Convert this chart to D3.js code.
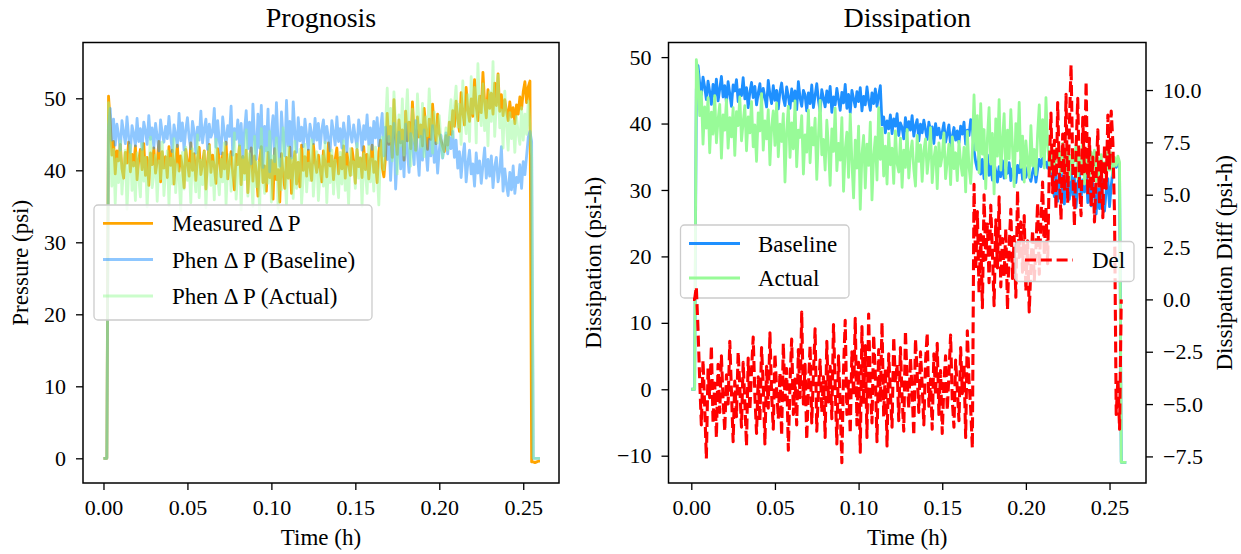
<!DOCTYPE html>
<html><head><meta charset="utf-8">
<script src="https://cdn.jsdelivr.net/npm/d3@7"></script>
<style>
body{margin:0;background:#fff;}
</style></head><body>
<svg id="chart" width="1241" height="554"></svg>
<script>
// ---------- DATA (time step 0.001 h, index i -> t = i*0.001) ----------
const timeStepH = 0.001;

const measuredDP = [
0, 0, 0, 50.3, 46.8, 42.1, 44.0, 39.5, 42.7, 41.3,
43.6, 40.2, 38.9, 42.5, 41.0, 43.9, 39.8, 42.2, 40.6, 43.4,
38.7, 41.5, 42.9, 40.1, 43.7, 39.3, 41.8, 37.9, 42.4, 40.8,
43.1, 39.6, 41.2, 44.0, 38.4, 42.6, 40.3, 41.9, 39.0, 43.3,
40.7, 42.8, 38.1, 41.4, 43.5, 39.9, 42.0, 40.4, 37.6, 42.9,
41.1, 39.2, 43.8, 40.0, 42.3, 38.6, 41.7, 43.2, 39.4, 40.9,
42.7, 37.4, 41.3, 43.6, 39.7, 42.1, 40.5, 38.2, 43.0, 41.6,
39.1, 42.4, 40.2, 43.9, 38.8, 41.0, 42.6, 39.5, 37.3, 42.2,
40.8, 43.4, 38.0, 41.9, 39.6, 42.8, 36.9, 41.2, 43.1, 38.5,
42.0, 39.8, 36.4, 41.5, 43.3, 38.3, 40.6, 37.1, 42.5, 39.0,
41.4, 36.0, 43.0, 38.7, 40.1, 35.6, 42.3, 39.4, 37.5, 41.8,
38.9, 43.2, 36.8, 40.7, 42.6, 38.1, 41.1, 37.7, 43.5, 40.0,
41.9, 39.2, 42.8, 40.4, 38.6, 43.6, 41.2, 39.7, 42.1, 40.3,
38.4, 42.7, 41.0, 39.1, 43.8, 40.6, 42.0, 38.7, 41.5, 43.1,
39.5, 41.8, 40.2, 43.4, 38.9, 42.4, 40.8, 39.3, 43.0, 41.3,
38.2, 42.9, 40.5, 41.7, 39.0, 43.3, 40.1, 42.2, 38.8, 41.6,
43.5, 39.7, 41.2, 38.3, 42.6, 44.2, 40.4, 39.1, 41.9, 47.9,
43.6, 46.1, 41.8, 49.8, 44.5, 42.2, 47.0, 43.8, 45.6, 41.4,
48.2, 44.1, 46.7, 43.0, 49.5, 45.2, 42.8, 47.4, 44.6, 46.3,
43.4, 48.6, 45.7, 42.9, 47.1, 44.3, 49.2, 46.0, 43.7, 47.8,
45.1, 44.2, 43.3, 42.6, 44.8, 43.5, 46.7, 45.0, 48.3, 46.1,
49.6, 47.2, 45.4, 50.8, 47.9, 46.3, 51.5, 48.4, 46.8, 49.9,
47.5, 52.6, 48.8, 46.9, 50.3, 48.0, 53.6, 49.4, 47.3, 51.2,
48.6, 50.7, 47.8, 52.1, 49.0, 53.4, 48.2, 50.5, 47.6, 49.8,
48.3, 46.9, 49.5, 47.4, 48.7, 46.5, 49.1, 47.8, 50.2, 48.5,
50.9, 52.3, 49.4, 51.6, 52.4, -0.5, -0.5, -0.6, -0.5, -0.4,
-0.4];

const phenBaselineDP = [
0, 0, 0, 46.0, 48.6, 44.2, 47.1, 43.5, 46.4, 44.9,
42.8, 46.9, 45.3, 43.7, 47.4, 44.6, 42.5, 46.2, 45.1, 43.4,
47.2, 44.0, 45.8, 42.9, 46.7, 45.5, 43.6, 47.6, 44.3, 45.9,
43.1, 46.5, 44.7, 42.7, 47.0, 45.2, 43.9, 46.1, 44.4, 47.5,
44.8, 42.6, 46.3, 45.0, 43.3, 47.9, 44.1, 46.6, 42.8, 45.6,
47.3, 44.5, 43.0, 46.8, 45.4, 42.4, 46.0, 44.2, 48.2, 43.8,
45.7, 47.1, 42.9, 46.4, 44.6, 45.3, 48.6, 43.2, 46.9, 44.0,
42.3, 47.4, 45.1, 43.6, 46.2, 44.7, 48.9, 42.1, 45.8, 44.3,
47.0, 43.5, 46.5, 41.8, 45.5, 48.3, 43.0, 46.7, 40.9, 49.2,
44.4, 41.5, 47.8, 43.1, 49.0, 40.4, 46.1, 42.7, 48.5, 39.8,
45.3, 47.6, 41.2, 49.4, 43.9, 40.6, 48.1, 44.5, 42.0, 49.7,
43.4, 46.8, 41.7, 49.5, 45.2, 42.5, 47.3, 44.1, 46.0, 43.3,
47.1, 44.8, 42.9, 46.4, 45.0, 43.7, 47.2, 44.2, 46.5, 43.0,
45.6, 47.0, 43.8, 46.1, 44.4, 42.7, 46.9, 45.3, 43.5, 47.4,
44.0, 45.8, 43.1, 46.6, 44.9, 42.6, 47.5, 45.1, 43.9, 46.3,
44.6, 43.2, 47.0, 45.4, 42.8, 46.2, 44.3, 47.7, 43.6, 45.9,
42.9, 46.8, 44.5, 47.3, 43.4, 45.7, 47.9, 42.0, 46.0, 41.5,
44.7, 38.6, 43.2, 46.5, 37.4, 42.1, 45.3, 40.2, 44.0, 39.1,
46.4, 42.6, 39.7, 45.1, 43.5, 40.8, 46.9, 42.2, 39.3, 44.7,
41.4, 45.6, 43.0, 40.0, 44.3, 42.0, 46.2, 41.1, 43.8, 39.6,
42.8, 44.9, 41.7, 43.4, 45.2, 42.3, 44.6, 43.0, 45.4, 41.8,
44.2, 40.3, 42.6, 39.0, 41.9, 43.7, 38.4, 41.0, 42.8, 39.5,
40.9, 37.8, 42.4, 39.6, 41.3, 38.2, 40.7, 43.1, 38.9, 41.5,
39.2, 42.0, 37.6, 40.5, 41.8, 38.4, 39.9, 43.3, 37.1, 40.2,
38.0, 36.5, 39.7, 37.3, 40.6, 36.8, 39.0, 38.3, 40.8, 37.5,
41.2, 39.4, 42.0, 44.6, 45.4, 44.0, 0, 0, 0, 0,
0];

const phenActualDP = [
0, 0, 0, 49.4, 44.2, 37.8, 42.9, 35.4, 41.6, 38.3,
44.1, 36.7, 40.5, 42.8, 34.6, 39.9, 43.5, 37.2, 41.1, 35.8,
42.4, 39.0, 36.3, 43.7, 38.5, 41.8, 34.9, 40.2, 44.6, 37.6,
39.4, 42.1, 35.7, 41.3, 38.8, 43.9, 36.5, 40.0, 42.7, 35.1,
41.7, 38.1, 44.4, 36.9, 40.8, 39.2, 34.4, 42.5, 37.4, 43.2,
38.6, 41.0, 35.5, 43.0, 39.7, 37.0, 44.9, 36.2, 41.4, 38.0,
42.6, 34.8, 40.4, 43.4, 37.9, 41.2, 35.9, 44.3, 39.1, 36.6,
41.5, 38.4, 43.8, 35.3, 40.7, 42.2, 37.1, 39.6, 45.2, 36.0,
40.0, 43.6, 34.5, 41.9, 38.7, 45.6, 36.4, 42.3, 39.3, 35.0,
44.7, 37.7, 41.1, 34.2, 45.8, 39.0, 36.8, 43.1, 38.2, 45.4,
35.6, 42.0, 39.5, 44.5, 34.7, 41.6, 37.3, 45.9, 39.8, 35.2,
43.3, 38.9, 41.7, 36.1, 44.0, 37.5, 40.6, 42.9, 35.4, 39.2,
43.6, 37.0, 41.0, 38.6, 44.2, 36.4, 40.3, 42.6, 35.8, 39.7,
42.0, 37.8, 43.9, 35.5, 40.9, 38.3, 42.8, 36.7, 41.4, 39.0,
36.2, 42.5, 38.1, 44.1, 37.2, 40.5, 35.3, 43.0, 39.4, 41.2,
37.5, 43.7, 38.9, 41.8, 35.0, 42.3, 39.6, 36.8, 43.4, 38.4,
41.6, 37.1, 43.2, 39.8, 35.2, 42.7, 44.6, 40.1, 46.3, 51.4,
44.0, 48.6, 41.3, 50.9, 46.2, 39.5, 47.7, 43.4, 49.9, 42.1,
46.8, 51.2, 44.3, 40.6, 48.5, 45.0, 42.7, 50.6, 46.0, 43.2,
49.3, 41.9, 47.4, 44.8, 51.3, 46.5, 42.4, 48.1, 45.3, 43.8,
47.6, 44.1, 41.8, 43.5, 45.9, 42.8, 47.2, 49.8, 44.6, 48.9,
51.7, 46.0, 49.2, 43.6, 52.4, 47.3, 45.1, 50.5, 44.0, 53.0,
47.9, 51.5, 43.8, 54.8, 48.6, 46.2, 52.0, 45.5, 49.7, 43.4,
50.9, 46.8, 55.1, 44.7, 49.3, 53.2, 45.9, 48.4, 43.1, 51.0,
46.3, 42.8, 48.0, 44.4, 46.9, 42.5, 47.5, 45.1, 43.6, 48.7,
44.2, 47.8, 45.0, 49.6, 46.1, 42.0, 0, 0, 0, 0,
0];

const dissBaseline = [
0, 0, 0, 45.2, 48.7, 46.1, 44.3, 47.0, 45.5, 43.6,
46.4, 44.8, 42.9, 45.9, 44.1, 46.7, 43.4, 45.2, 47.1, 44.0,
45.7, 43.1, 46.3, 44.5, 42.6, 45.8, 44.9, 46.6, 43.3, 45.1,
44.2, 46.9, 43.7, 45.4, 42.4, 44.7, 46.2, 43.9, 45.6, 42.8,
44.6, 46.0, 43.2, 45.3, 44.0, 42.5, 46.5, 44.4, 43.0, 45.7,
43.5, 45.0, 42.2, 44.8, 46.1, 43.8, 42.7, 45.5, 44.1, 42.3,
45.2, 43.4, 44.9, 42.1, 46.3, 43.9, 42.6, 45.0, 44.3, 41.9,
44.6, 43.0, 45.8, 42.4, 44.2, 46.0, 43.5, 41.8, 45.1, 43.8,
42.5, 44.9, 43.2, 45.6, 41.7, 44.0, 42.8, 45.3, 43.6, 42.0,
44.7, 43.1, 45.9, 42.3, 44.4, 41.6, 45.0, 43.7, 42.5, 44.8,
43.3, 45.4, 41.9, 44.1, 42.8, 45.5, 43.4, 42.0, 44.6, 43.0,
45.2, 42.6, 44.3, 45.7, 39.8, 41.0, 38.6, 40.4, 39.2, 41.3,
38.5, 40.7, 39.6, 41.5, 38.2, 40.1, 39.4, 37.7, 40.9, 38.8,
40.3, 39.0, 41.2, 38.1, 39.7, 40.6, 37.4, 39.9, 38.6, 40.5,
39.1, 37.6, 40.2, 38.9, 39.5, 37.0, 40.0, 38.3, 39.3, 37.8,
38.7, 40.1, 37.2, 38.5, 39.8, 36.6, 38.0, 39.4, 37.5, 38.9,
37.1, 39.6, 38.4, 40.2, 36.9, 39.0, 38.2, 40.6, 39.3, 36.0,
34.2, 33.1, 35.0, 32.4, 34.6, 31.7, 33.6, 35.3, 32.2, 33.9,
31.5, 34.0, 32.8, 31.2, 33.5, 32.0, 34.4, 31.8, 33.0, 32.5,
34.1, 31.4, 33.2, 32.3, 31.1, 33.7, 32.6, 34.5, 31.6, 32.9,
31.9, 33.4, 32.1, 31.3, 32.7, 33.8, 31.2, 33.1, 34.6, 33.5,
34.8, 33.9, 34.2, 33.3, 34.9, 33.6, 31.4, 29.0, 32.6, 28.3,
31.2, 33.5, 29.6, 27.9, 32.0, 30.4, 28.6, 33.1, 29.2, 31.8,
27.4, 30.9, 32.7, 28.8, 31.5, 29.7, 33.2, 28.1, 30.5, 27.6,
31.0, 29.3, 26.4, 30.2, 27.2, 32.4, 28.0, 26.8, 29.9, 31.7,
27.5, 30.6, 33.0, 34.1, 33.4, 34.5, 33.2, -11, -11, -11,
-11];

const dissActual = [
0, 0, 0, 49.6, 47.4, 41.2, 44.8, 36.9, 42.5, 39.3,
43.9, 35.6, 41.7, 38.4, 44.2, 37.1, 40.6, 42.9, 34.8, 41.3,
39.0, 43.6, 36.3, 40.9, 38.0, 42.4, 35.2, 41.8, 39.7, 44.0,
37.4, 40.2, 42.7, 35.9, 41.0, 38.6, 43.3, 36.5, 39.8, 34.3,
41.6, 38.9, 44.5, 36.0, 40.4, 37.7, 42.1, 33.8, 39.5, 41.9,
36.7, 43.1, 35.0, 39.9, 37.3, 41.5, 31.2, 38.8, 42.6, 34.9,
40.1, 36.2, 43.4, 33.5, 39.0, 37.9, 41.2, 32.4, 38.3, 35.7,
42.0, 34.1, 39.4, 36.8, 40.8, 31.6, 38.1, 43.5, 35.3, 37.6,
33.0, 40.5, 36.4, 30.7, 39.2, 35.8, 42.3, 32.9, 37.0, 34.5,
40.9, 29.8, 36.1, 38.7, 31.9, 41.4, 34.2, 28.8, 37.5, 33.3,
39.6, 27.1, 35.4, 38.2, 30.3, 36.9, 33.7, 40.2, 28.5, 35.1,
38.0, 31.5, 42.4, 34.6, 39.3, 32.1, 36.6, 30.9, 38.5, 33.8,
36.3, 31.0, 38.9, 34.0, 32.7, 37.8, 30.4, 36.0, 33.4, 39.1,
31.8, 35.5, 37.4, 33.1, 30.6, 38.2, 34.3, 36.8, 31.3, 35.9,
37.7, 32.5, 35.0, 39.4, 31.1, 34.7, 36.5, 30.2, 37.1, 33.6,
35.2, 38.6, 31.7, 34.4, 36.9, 30.8, 38.0, 33.2, 35.6, 31.4,
37.3, 34.1, 32.2, 36.4, 29.7, 38.8, 33.5, 31.0, 35.8, 44.3,
36.0, 41.2, 32.6, 43.0, 35.4, 39.1, 30.2, 37.8, 42.4, 33.9,
38.5, 29.4, 40.7, 35.1, 43.6, 33.0, 37.2, 41.5, 31.8, 39.0,
34.7, 42.1, 36.3, 30.5, 40.0, 35.9, 43.2, 33.4, 38.1, 31.2,
37.4, 34.2, 31.9, 39.7, 33.6, 36.1, 32.3, 38.4, 42.8, 35.0,
40.6, 33.3, 43.9, 36.7, 34.0, 32.8, 35.5, 33.0, 36.2, 34.3,
35.8, 32.6, 37.0, 34.9, 33.1, 36.4, 31.5, 35.2, 33.9, 34.6,
36.8, 31.7, 35.0, 33.2, 37.5, 30.9, 34.4, 36.1, 32.0, 35.7,
33.5, 36.0, 31.3, 34.8, 30.6, 35.3, 32.8, 34.1, 31.9, 36.4,
33.0, 35.6, 32.1, 34.9, 33.7, 35.1, 34.2, -11, -11, -11,
-11];

const dissDel = [
null, 0.0, 0.0, 0.6, -1.4, -3.8, -6.0, -2.9, -5.1, -7.6,
-3.3, -4.7, -2.2, -5.9, -4.0, -6.6, -3.1, -5.4, -2.7, -4.8,
-6.3, -3.6, -5.0, -2.0, -4.4, -6.8, -3.9, -5.6, -2.5, -4.2,
-6.1, -3.0, -4.9, -7.0, -2.8, -5.3, -3.4, -1.8, -4.6, -6.4,
-3.7, -5.8, -2.3, -4.1, -6.9, -3.2, -5.2, -1.6, -4.5, -6.2,
-2.6, -4.3, -5.7, -3.5, -6.5, -2.1, -4.8, -3.3, -7.2, -4.0,
-1.9, -5.5, -3.8, -6.0, -2.4, -4.7, -0.6, -5.0, -3.1, -6.7,
-4.2, -2.2, -5.9, -3.6, -1.4, -6.3, -4.4, -2.9, -5.4, -3.7,
-6.6, -2.0, -4.9, -3.2, -5.7, -1.2, -4.1, -6.9, -2.7, -5.1,
-7.8, -3.4, -1.0, -5.5, -3.9, -6.4, -2.5, -4.6, -0.9, -6.0,
-3.0, -7.3, -1.3, -5.0, -2.2, -6.6, -0.7, -4.3, -5.9, -1.7,
-3.6, -6.8, -2.4, -4.9, -1.1, -5.6, -3.3, -7.0, -2.6, -4.5,
-6.1, -1.8, -4.0, -3.1, -5.8, -2.3, -4.7, -6.3, -1.5, -3.9,
-5.2, -2.8, -4.4, -6.5, -1.9, -3.5, -5.4, -2.5, -4.1, -6.0,
-3.0, -1.6, -5.1, -3.8, -6.2, -2.6, -4.6, -2.1, -5.5, -3.4,
-6.4, -4.0, -2.7, -5.3, -3.6, -1.7, -4.8, -6.1, -2.9, -4.3,
-5.8, -2.3, -4.5, -3.1, -6.6, -1.5, -3.9, -5.2, -7.1, 5.5,
1.4, 4.2, 0.3, 3.1, -0.4, 5.0, 1.9, 3.6, 0.8, 4.5,
2.2, -0.3, 3.8, 1.5, 4.9, 0.6, 2.9, 1.1, 3.4, -0.5,
2.5, 4.3, 1.0, 3.0, 0.1, 5.2, 2.0, 3.7, 1.3, 4.0,
0.4, 2.8, -0.6, 1.6, 3.3, 0.9, 2.4, 4.6, 1.2, 3.9,
5.6, 2.1, 4.4, 1.7, 6.3, 8.9, 5.1, 7.6, 4.3, 9.4,
6.0, 3.8, 7.9, 5.2, 9.8, 4.6, 8.3, 11.2, 6.4, 3.5,
7.2, 9.6, 5.5, 4.0, 8.7, 6.1, 10.4, 5.0, 7.7, 4.4,
6.8, 3.7, 5.9, 8.1, 4.5, 6.6, 3.9, 7.4, 5.3, 8.8,
6.2, 9.0, 7.5, 4.0, -5.5, -3.8, -6.2, 0.0, null, null,
null];

const xTickValues = [0, 0.05, 0.10, 0.15, 0.20, 0.25];
const pressureTicks = [0, 10, 20, 30, 40, 50];
const dissTicks = [-10, 0, 10, 20, 30, 40, 50];
const diffTicks = [-7.5, -5, -2.5, 0, 2.5, 5, 7.5, 10];

const leftLegendLabels = ["Measured \u0394 P", "Phen \u0394 P (Baseline)", "Phen \u0394 P (Actual)"];
const rightLegendLabels = ["Baseline", "Actual"];
const delLegendLabel = "Del";

// ---------- LAYOUT ----------
const FONT = '"Liberation Serif","Times New Roman",Times,serif';
const TICK_FS = 22, LABEL_FS = 23, TITLE_FS = 28, LEG_FS = 23;
const LW = 2.8;
const DASH = "11,4.8";
const svg = d3.select("#chart");

const L = {x0: 83, x1: 559, y0: 42.5, y1: 483};
const R = {x0: 668.5, x1: 1146, y0: 42.5, y1: 483};

const xL = d3.scaleLinear().domain([-0.0122, 0.2713]).range([L.x0, L.x1]);
const yL = d3.scaleLinear().domain([-3.43, 57.75]).range([L.y1, L.y0]);
const xR = d3.scaleLinear().domain([-0.01363, 0.2718]).range([R.x0, R.x1]);
const yR = d3.scaleLinear().domain([-14.11, 52.2]).range([R.y1, R.y0]);
const yR2 = d3.scaleLinear().domain([-8.77, 12.27]).range([R.y1, R.y0]);

const defs = svg.append("defs");
defs.append("clipPath").attr("id", "clipL").append("rect")
  .attr("x", L.x0).attr("y", L.y0).attr("width", L.x1 - L.x0).attr("height", L.y1 - L.y0);
defs.append("clipPath").attr("id", "clipR").append("rect")
  .attr("x", R.x0).attr("y", R.y0).attr("width", R.x1 - R.x0).attr("height", R.y1 - R.y0);

function series(g, data, x, y, color, opacity, dash, lw) {
  const line = d3.line()
    .defined(d => d !== null)
    .x((d, i) => x(i * timeStepH))
    .y(d => y(d));
  const p = g.append("path").datum(data)
    .attr("d", line)
    .attr("fill", "none")
    .attr("stroke", color)
    .attr("stroke-opacity", opacity)
    .attr("stroke-width", lw || LW)
    .attr("stroke-linejoin", "round");
  if (dash) p.attr("stroke-dasharray", dash);
  return p;
}

function styleAxis(g, fs) {
  g.attr("font-family", FONT).attr("font-size", fs);
  g.select(".domain").remove();
  g.selectAll(".tick line").attr("stroke", "#000").attr("stroke-width", 1.3);
  g.selectAll(".tick text").attr("fill", "#000");
}

function frame(P) {
  svg.append("rect").attr("x", P.x0).attr("y", P.y0)
    .attr("width", P.x1 - P.x0).attr("height", P.y1 - P.y0)
    .attr("fill", "none").attr("stroke", "#000").attr("stroke-width", 1.5);
}

function legend(box, rows) {
  const g = svg.append("g");
  g.append("rect").attr("x", box.x).attr("y", box.y).attr("width", box.w).attr("height", box.h)
    .attr("rx", 4).attr("fill", "#fff").attr("fill-opacity", 0.8)
    .attr("stroke", "#cccccc").attr("stroke-width", 1.3);
  rows.forEach(r => {
    const ln = g.append("line").attr("x1", box.lx0).attr("x2", box.lx1)
      .attr("y1", r.y).attr("y2", r.y)
      .attr("stroke", r.color).attr("stroke-opacity", r.opacity)
      .attr("stroke-width", r.lw || LW);
    if (r.dash) ln.attr("stroke-dasharray", r.dash);
    g.append("text").attr("x", box.tx).attr("y", r.y + 8)
      .attr("font-family", FONT).attr("font-size", LEG_FS).attr("fill", "#000")
      .text(r.label);
  });
}

function text(x, y, s, fs, rot) {
  const t = svg.append("text").attr("font-family", FONT).attr("font-size", fs)
    .attr("text-anchor", "middle").attr("fill", "#000").text(s);
  if (rot) t.attr("transform", `translate(${x},${y}) rotate(-90)`);
  else t.attr("x", x).attr("y", y);
}

// ---------- LEFT PANEL ----------
const gL = svg.append("g").attr("clip-path", "url(#clipL)");
series(gL, measuredDP, xL, yL, "#FFA500", 1);
series(gL, phenBaselineDP, xL, yL, "#1E90FF", 0.5);
series(gL, phenActualDP, xL, yL, "#98FB98", 0.5);

svg.append("g").attr("transform", `translate(0,${L.y1})`)
  .call(d3.axisBottom(xL).tickValues(xTickValues).tickFormat(d3.format(".2f")).tickSize(7).tickPadding(9.5))
  .call(g => styleAxis(g, TICK_FS));
svg.append("g").attr("transform", `translate(${L.x0},0)`)
  .call(d3.axisLeft(yL).tickValues(pressureTicks).tickFormat(d3.format("d")).tickSize(7).tickPadding(10))
  .call(g => styleAxis(g, TICK_FS));
frame(L);

legend({x: 94, y: 205, w: 278, h: 115, lx0: 103, lx1: 153, tx: 172}, [
  {label: leftLegendLabels[0], color: "#FFA500", opacity: 1, y: 223.3},
  {label: leftLegendLabels[1], color: "#1E90FF", opacity: 0.5, y: 259.5},
  {label: leftLegendLabels[2], color: "#98FB98", opacity: 0.5, y: 296}
]);

text((L.x0 + L.x1) / 2, 27, "Prognosis", TITLE_FS);
text((L.x0 + L.x1) / 2, 544.5, "Time (h)", LABEL_FS);
text(28, (L.y0 + L.y1) / 2, "Pressure (psi)", LABEL_FS, true);

// ---------- RIGHT PANEL ----------
const gR = svg.append("g").attr("clip-path", "url(#clipR)");
series(gR, dissBaseline, xR, yR, "#1E90FF", 1);
series(gR, dissActual, xR, yR, "#98FB98", 1);

svg.append("g").attr("transform", `translate(0,${R.y1})`)
  .call(d3.axisBottom(xR).tickValues(xTickValues).tickFormat(d3.format(".2f")).tickSize(7).tickPadding(9.5))
  .call(g => styleAxis(g, TICK_FS));
svg.append("g").attr("transform", `translate(${R.x0},0)`)
  .call(d3.axisLeft(yR).tickValues(dissTicks).tickFormat(d3.format("d")).tickSize(7).tickPadding(10))
  .call(g => styleAxis(g, TICK_FS));

legend({x: 680.5, y: 225, w: 168.5, h: 73, lx0: 689, lx1: 740, tx: 758}, [
  {label: rightLegendLabels[0], color: "#1E90FF", opacity: 1, y: 243.5},
  {label: rightLegendLabels[1], color: "#98FB98", opacity: 1, y: 278}
]);

const gR2 = svg.append("g").attr("clip-path", "url(#clipR)");
series(gR2, dissDel, xR, yR2, "#FF0000", 1, DASH, 3.1);

svg.append("g").attr("transform", `translate(${R.x1},0)`)
  .call(d3.axisRight(yR2).tickValues(diffTicks).tickFormat(d3.format(".1f")).tickSize(7).tickPadding(10))
  .call(g => styleAxis(g, TICK_FS));
frame(R);

legend({x: 1015, y: 241.5, w: 119, h: 40, lx0: 1025, lx1: 1073, tx: 1092}, [
  {label: delLegendLabel, color: "#FF0000", opacity: 1, y: 260, dash: DASH, lw: 3.1}
]);

text((R.x0 + R.x1) / 2, 27, "Dissipation", TITLE_FS);
text((R.x0 + R.x1) / 2, 544.5, "Time (h)", LABEL_FS);
text(601, (R.y0 + R.y1) / 2, "Dissipation (psi-h)", LABEL_FS, true);
text(1232, (R.y0 + R.y1) / 2, "Dissipation Diff (psi-h)", LABEL_FS, true);
</script>
</body></html>
